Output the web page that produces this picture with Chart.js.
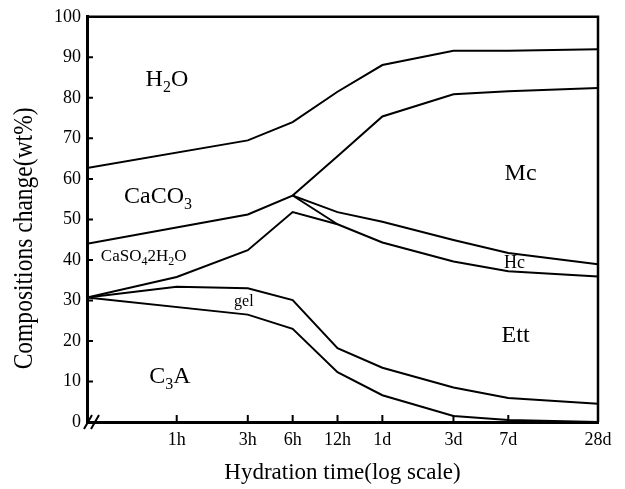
<!DOCTYPE html>
<html>
<head>
<meta charset="utf-8">
<title>Composition change of C3A paste</title>
<script src="https://cdn.jsdelivr.net/npm/chart.js@4.4.1/dist/chart.umd.min.js"></script>
<style>
  html, body { margin: 0; padding: 0; background: #fff; }
</style>
</head>
<body>
<canvas id="chart" width="625" height="489"></canvas>
<script>
// hydration time in hours; the first entry is the start of the log axis
const times = [0.25, 1, 3, 6, 12, 24, 72, 168, 672];
const tickHours = [1, 3, 6, 12, 24, 72, 168, 672];
const tickLabels = ["1h", "3h", "6h", "12h", "1d", "3d", "7d", "28d"];

// phase boundaries (wt%), null where a curve has no vertex at that time
const h2oBottom    = [62.7, null, 69.5, 74.0, 81.5, 88.1, 91.6, 91.6, 92.0];
const mcTop        = [null, null, null, 55.9, 65.6, 75.4, 80.9, 81.6, 82.4];
const caco3Bottom  = [44.0, null, 51.2, 55.9, 51.8, 49.4, 44.9, 41.7, 38.9];
const gypsumSplit  = [null, null, null, 55.9, 48.8, null, null, null, null];
const gypsumBottom = [30.7, 35.8, 42.4, 51.8, 48.8, 44.3, 39.6, 37.2, 35.9];
const gelTop       = [30.7, 33.4, 33.0, 30.1, 18.2, 13.4, 8.5, 5.9, 4.5];
const c3aTop       = [30.7, null, 26.5, 23.0, 12.3, 6.6, 1.5, 0.5, 0.0];

const curves = [h2oBottom, mcTop, caco3Bottom, gypsumSplit, gypsumBottom, gelTop, c3aTop];

// phase names; {n} is a subscript
const phaseLabels = [
  { text: "H{2}O",          x: 0.86, y: 84.8, size: 24 },
  { text: "CaCO{3}",        x: 0.75, y: 56.0, size: 24 },
  { text: "CaSO{4}2H{2}O",  x: 0.60, y: 41.2, size: 17 },
  { text: "gel",            x: 2.82, y: 29.9, size: 16 },
  { text: "C{3}A",          x: 0.90, y: 11.7, size: 24 },
  { text: "Mc",             x: 203,  y: 61.8, size: 24 },
  { text: "Hc",             x: 185,  y: 39.4, size: 18 },
  { text: "Ett",            x: 188,  y: 21.7, size: 24 }
];

const yTitle = "Compositions change(wt%)";

const serif = "'Liberation Serif', 'Times New Roman', serif";
Chart.defaults.font.family = serif;
Chart.defaults.color = "#000";

function toPoints(arr) {
  return times.map((t, i) => ({ x: t, y: arr[i] })).filter(p => p.y !== null);
}

function drawRich(ctx, text, cx, cy, size) {
  const parts = [];
  text.split(/(\{[^}]*\})/).forEach(p => {
    if (!p) return;
    if (p[0] === "{") parts.push({ t: p.slice(1, -1), sub: true });
    else parts.push({ t: p, sub: false });
  });
  const subSize = Math.round(size * 0.68);
  let w = 0;
  parts.forEach(p => {
    ctx.font = (p.sub ? subSize : size) + "px " + serif;
    p.w = ctx.measureText(p.t).width;
    w += p.w;
  });
  let x = cx - w / 2;
  const base = cy + size * 0.33;
  ctx.textAlign = "left";
  ctx.textBaseline = "alphabetic";
  parts.forEach(p => {
    ctx.font = (p.sub ? subSize : size) + "px " + serif;
    ctx.fillText(p.t, x, p.sub ? base + size * 0.25 : base);
    x += p.w;
  });
}

// frame, inward ticks, axis break, y title and phase names
const decorations = {
  id: "decorations",
  afterDatasetsDraw(chart) {
    const { ctx, chartArea: a, scales: { x, y } } = chart;
    ctx.save();
    ctx.strokeStyle = "#000";
    ctx.fillStyle = "#000";

    ctx.lineWidth = 2.5;
    ctx.beginPath();
    ctx.moveTo(a.left, a.top);
    ctx.lineTo(a.right, a.top);
    ctx.lineTo(a.right, a.bottom);
    ctx.stroke();

    ctx.lineWidth = 2;
    ctx.beginPath();
    for (let v = 10; v < 100; v += 10) {
      const py = y.getPixelForValue(v);
      ctx.moveTo(a.left, py);
      ctx.lineTo(a.left + 6, py);
    }
    tickHours.slice(0, -1).forEach(h => {
      const px = x.getPixelForValue(h);
      ctx.moveTo(px, a.bottom);
      ctx.lineTo(px, a.bottom - 7);
    });
    ctx.stroke();

    // axis break marks
    ctx.beginPath();
    ctx.moveTo(a.left - 3, a.bottom + 7);
    ctx.lineTo(a.left + 5, a.bottom - 7);
    ctx.moveTo(a.left + 4, a.bottom + 7);
    ctx.lineTo(a.left + 12, a.bottom - 7);
    ctx.stroke();

    // narrow, tall y title
    ctx.save();
    ctx.translate(25, a.top + (a.bottom - a.top) / 2 + 19);
    ctx.rotate(-Math.PI / 2);
    ctx.scale(0.84, 1);
    ctx.font = "28px " + serif;
    ctx.textAlign = "center";
    ctx.textBaseline = "middle";
    ctx.fillText(yTitle, 0, 0);
    ctx.restore();

    phaseLabels.forEach(l => {
      drawRich(ctx, l.text, x.getPixelForValue(l.x), y.getPixelForValue(l.y), l.size);
    });
    ctx.restore();
  }
};

new Chart(document.getElementById("chart").getContext("2d"), {
  type: "line",
  data: {
    datasets: curves.map(c => ({
      data: toPoints(c),
      borderColor: "#000",
      borderWidth: 2,
      pointRadius: 0,
      fill: false,
      tension: 0
    }))
  },
  options: {
    responsive: false,
    animation: false,
    devicePixelRatio: 1,
    layout: { padding: { top: 15, right: 27, left: 0, bottom: 0 } },
    plugins: { legend: { display: false }, tooltip: { enabled: false } },
    scales: {
      x: {
        type: "logarithmic",
        min: 0.25,
        max: 672,
        afterBuildTicks: s => { s.ticks = tickHours.map(v => ({ value: v })); },
        afterFit: s => { s.height = 67; },
        ticks: {
          autoSkip: false,
          maxRotation: 0,
          padding: 7,
          font: { size: 18 },
          callback: v => tickLabels[tickHours.indexOf(v)]
        },
        grid: { display: false, drawTicks: false },
        border: { display: true, width: 3, color: "#000" },
        title: {
          display: true,
          text: "Hydration time(log scale)",
          font: { size: 23 },
          padding: { top: 2, bottom: 2 }
        }
      },
      y: {
        min: 0,
        max: 100,
        afterFit: s => { s.width = 87; },
        ticks: { stepSize: 10, padding: 6, font: { size: 18 } },
        grid: { display: false, drawTicks: false },
        border: { display: true, width: 3, color: "#000" }
      }
    }
  },
  plugins: [decorations]
});
</script>
</body>
</html>
